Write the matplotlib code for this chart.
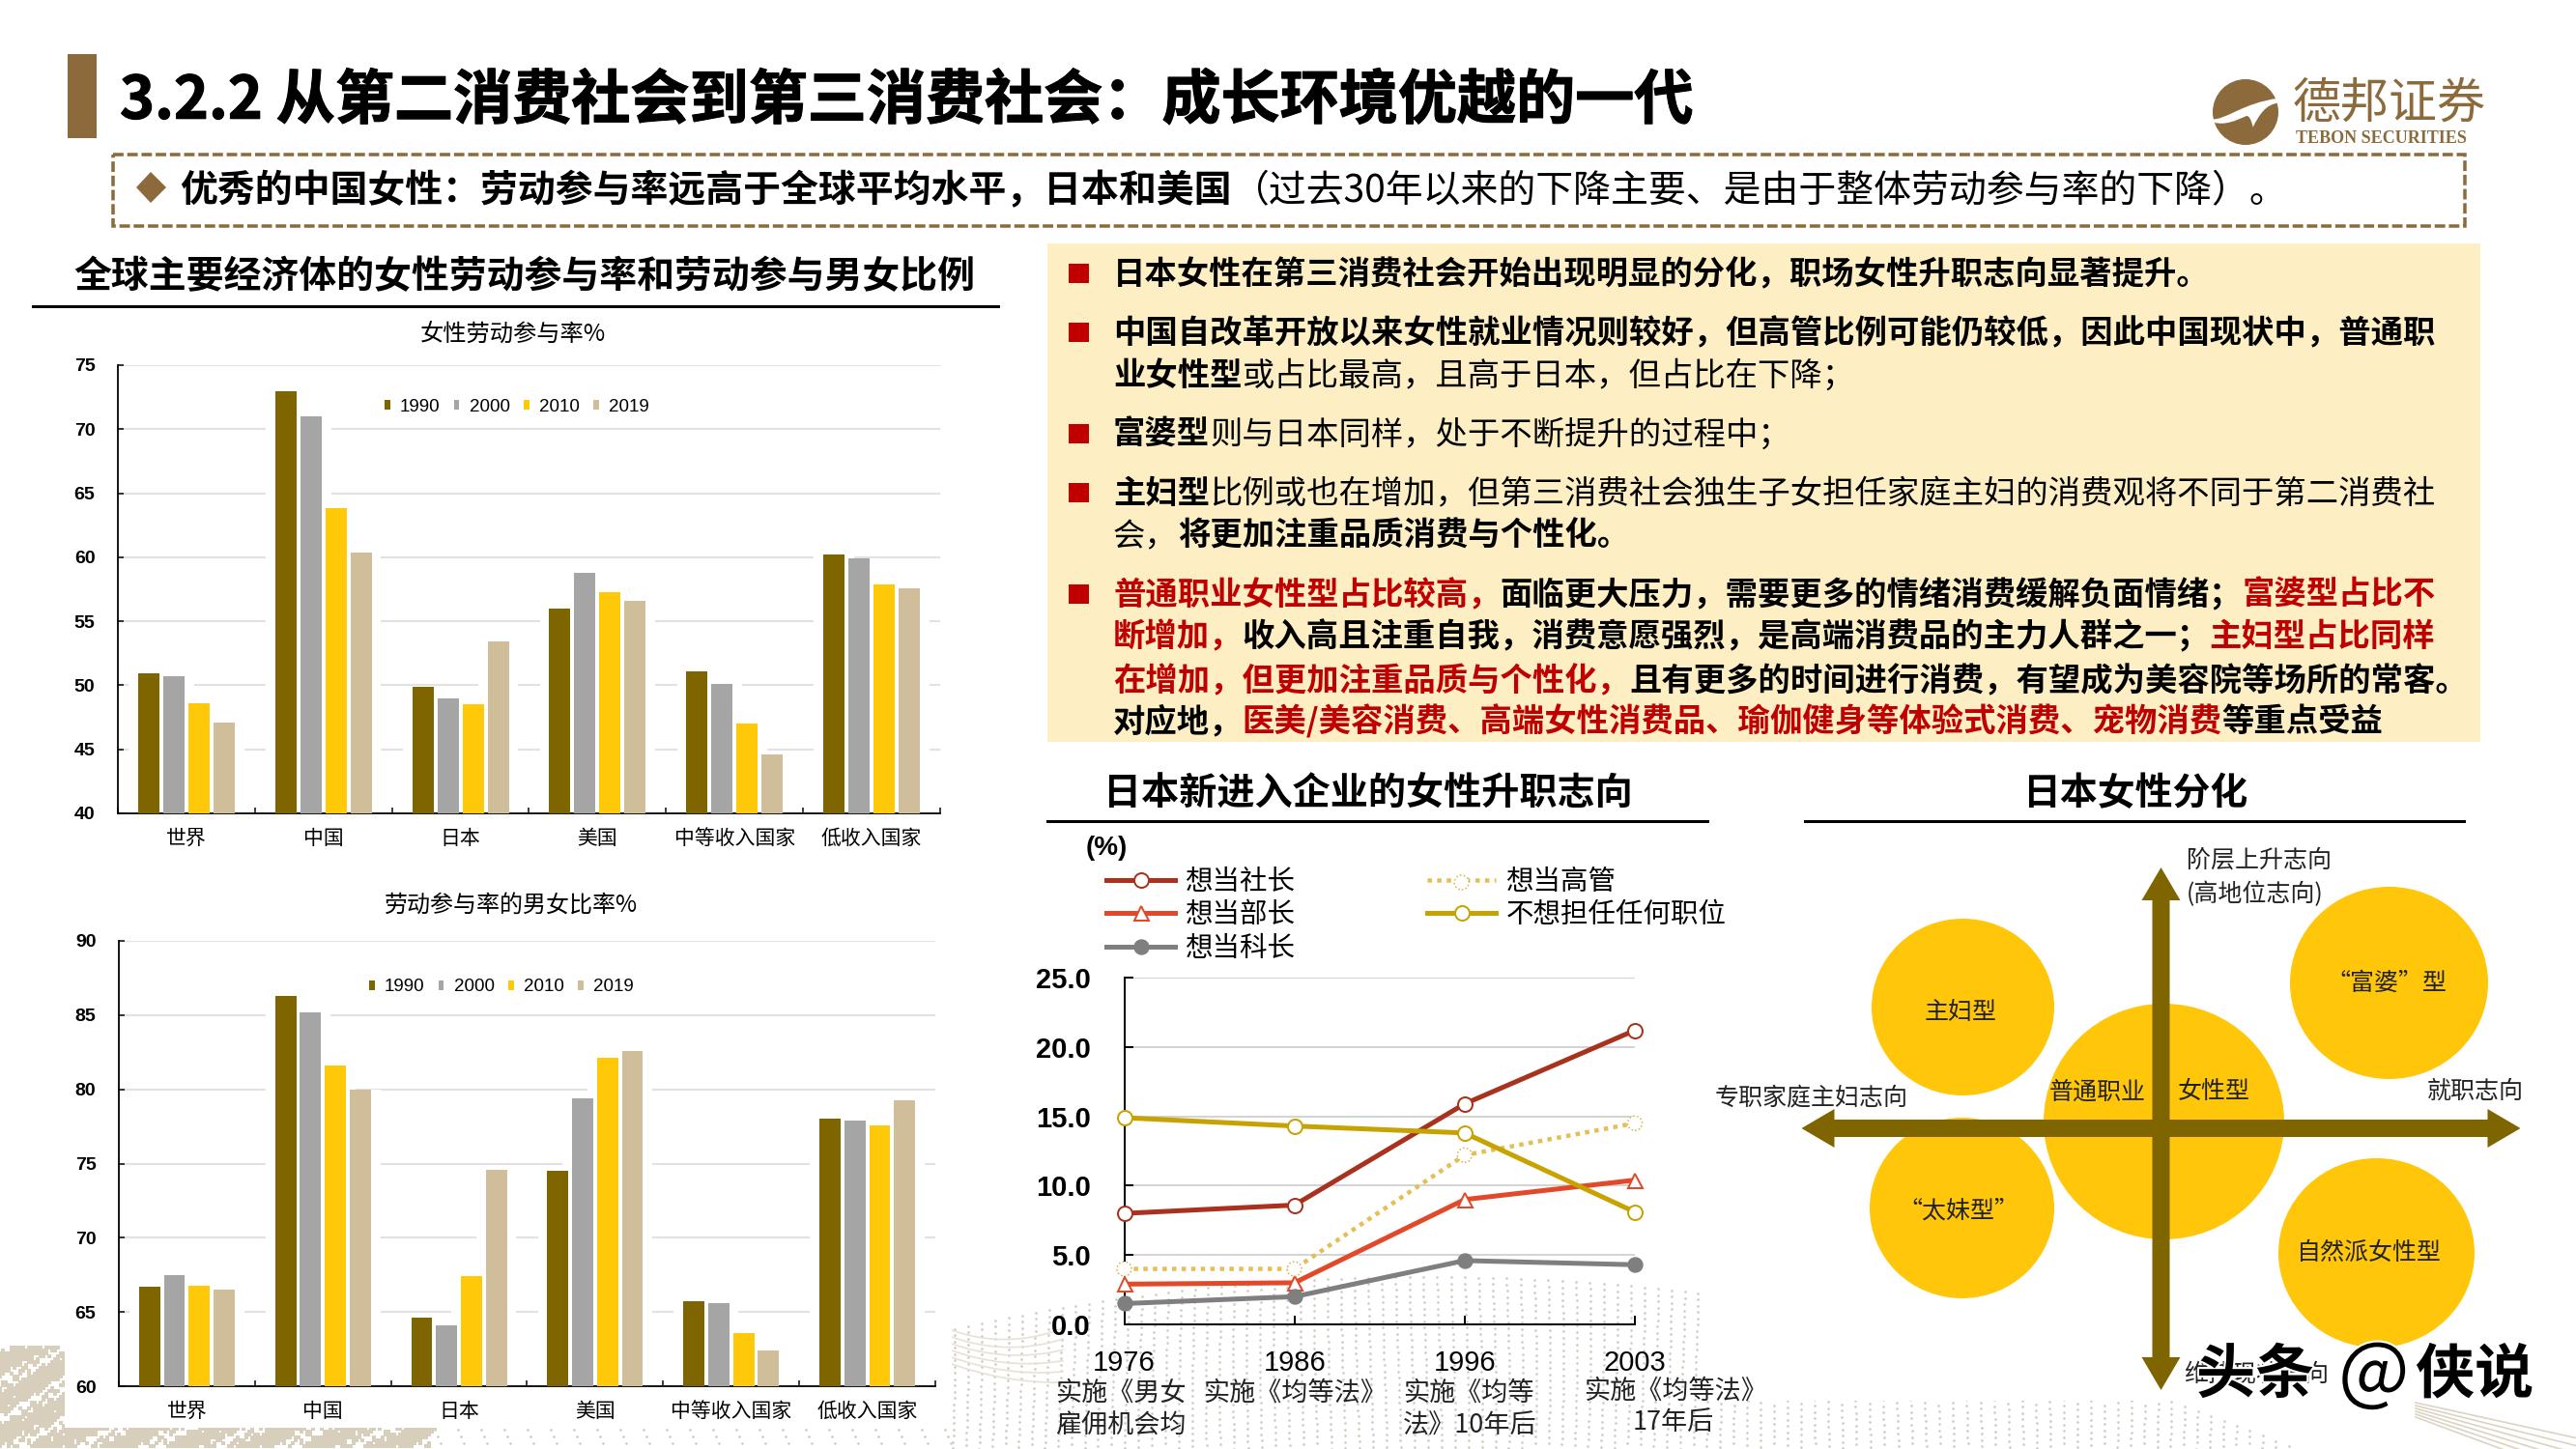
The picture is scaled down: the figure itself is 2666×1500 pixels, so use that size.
import numpy as np
import matplotlib
matplotlib.use('Agg')
import matplotlib.pyplot as plt
from matplotlib.patches import Rectangle, Ellipse, FancyArrow, PathPatch, Polygon, Circle
from matplotlib.path import Path
from matplotlib.legend_handler import HandlerTuple
import matplotlib.patheffects as pe

plt.rcParams['font.family'] = ['Noto Sans CJK SC', 'DejaVu Sans']

W, H = 2666, 1500
px = 0.72  # one pixel in points at dpi 100

# bar charts
regions = ['世界', '中国', '日本', '美国', '中等收入国家', '低收入国家']
years = ['1990', '2000', '2010', '2019']
year_colors = ['#7F6500', '#A5A5A5', '#FFC90A', '#D0BE9A']
female_rate = [[50.9, 73.0, 49.9, 56.0, 51.1, 60.2],
               [50.7, 71.0, 49.0, 58.8, 50.1, 59.9],
               [48.6, 63.8, 48.5, 57.3, 47.0, 57.9],
               [47.1, 60.4, 53.4, 56.6, 44.6, 57.6]]
ratio_rate = [[66.7, 86.3, 64.6, 74.5, 65.7, 78.0],
              [67.5, 85.2, 64.1, 79.4, 65.6, 77.9],
              [66.8, 81.6, 67.4, 82.1, 63.6, 77.6],
              [66.5, 79.95, 74.6, 82.6, 62.4, 79.25]]

# line chart
line_years = ['1976', '1986', '1996', '2003']
line_notes = ['想当社长', '想当部长', '想当科长', '想当高管', '不想担任任何职位']
president = [8.0, 8.6, 15.9, 21.2]
manager = [2.9, 3.0, 9.0, 10.4]
section_head = [1.5, 2.0, 4.6, 4.3]
executive = [4.0, 4.0, 12.2, 14.5]
no_position = [14.9, 14.3, 13.8, 8.1]

fig = plt.figure(figsize=(W / 100, H / 100), dpi=100)
bg = fig.add_axes([0, 0, 1, 1], zorder=0)
bg.set_xlim(0, W)
bg.set_ylim(H, 0)
bg.axis('off')
renderer = fig.canvas.get_renderer()


def box(x0, y0, x1, y1):
    return [x0 / W, 1 - y1 / H, (x1 - x0) / W, (y1 - y0) / H]


def runs(x, y, parts, size):
    # text of mixed colour and weight on one line, y is the line centre
    base = y + size / px * 0.36
    for s, color, weight in parts:
        t = bg.text(x, base, s, color=color, fontweight=weight, fontsize=size,
                    va='baseline', ha='left', zorder=6)
        x = t.get_window_extent(renderer).x1


# background dots
xs, ys = [], []
for x in np.arange(985, 2666, 14):
    top = 1322 + 0.00022 * (x - 1479) ** 2
    yy = np.arange(top, 1500, 6.5)
    xs.extend(x + 3 * np.sin(yy * 0.012 + x * 0.01))
    ys.extend(yy)
bg.scatter(xs, ys, s=3.6, color='#CFCBC2', lw=0, zorder=1)

# beige streaks near the start of the dots and in the lower right corner
for k in range(6):
    tx = np.linspace(985, 1100, 30)
    bg.plot(tx, 1412 - k * 7 - 0.0016 * (tx - 985) ** 2 * (1 + 0.2 * k) + 0.35 * (tx - 985), color='#E8E2D6', lw=1.2, zorder=1)
    tx = np.linspace(2500, 2666, 30)
    bg.plot(tx, 1452 + k * 3 + 0.22 * (tx - 2500) + k * 0.03 * (tx - 2500), color='#DCD3C2', lw=1.2, zorder=1)

gx, gy = np.meshgrid(np.arange(0, 470, 3.0), np.arange(1395, 1500, 3.0))
keep = np.sin(gx * 0.31) * np.cos(gy * 0.43) + np.sin(gx * 0.09 + gy * 0.17) + 0.6 * np.sin(gx * 0.71 + gy * 0.53) > -0.55
keep &= gx < 450 - (gy - 1480) * 0.3
bg.scatter(gx[keep], gy[keep], s=6, marker='s', color='#D8CEBC', lw=0, zorder=1)
gx, gy = np.meshgrid(np.arange(450, 985, 24.0), np.arange(1480, 1500, 7.0))
bg.scatter(gx + (gy - 1480) * 0.4, gy, s=3.6, color='#CFCBC2', lw=0, zorder=1)

bg.add_patch(Rectangle((67, 950), 918, 528, color='white', lw=0, zorder=2))
bg.add_patch(Rectangle((1763, 0), 877, 1450, color='white', lw=0, zorder=2))

# header
bg.add_patch(Rectangle((70, 56), 30, 87, color='#8C6A3B', lw=0, zorder=3))
bg.text(124, 105, '3.2.2 从第二消费社会到第三消费社会：成长环境优越的一代', fontsize=44, fontweight='bold',
        va='center', ha='left', color='black', zorder=6,
        path_effects=[pe.withStroke(linewidth=0.8, foreground='black')])
bg.add_patch(Rectangle((117, 160), 2434, 74, fill=False, ec='#8C6A3B', lw=3.5 * px,
                       linestyle=(0, (3.1, 1.1)), zorder=3))
bg.add_patch(Polygon([(141, 194), (156, 178), (172, 194), (156, 210)], color='#8C6A3B', lw=0, zorder=3))
runs(186, 195, [('优秀的中国女性：劳动参与率远高于全球平均水平，日本和美国', 'black', 'bold'),
                ('（过去30年以来的下降主要、是由于整体劳动参与率的下降）。', 'black', 'normal')], 28)

# logo
bg.add_patch(Circle((2324, 116), 34, color='#8C6A3B', lw=0, zorder=3))
lx = lambda v: 2270 + v / 3
ly = lambda v: 70 + v / 3
verts = [(55, 160), (100, 165), (150, 110), (265, 95), (262, 110), (225, 115), (205, 145), (185, 185),
         (180, 165), (175, 150), (165, 150), (130, 165), (100, 180), (62, 170), (55, 160)]
codes = [Path.MOVETO, Path.CURVE4, Path.CURVE4, Path.CURVE4, Path.LINETO, Path.CURVE4, Path.CURVE4, Path.CURVE4,
         Path.CURVE4, Path.CURVE4, Path.CURVE4, Path.CURVE4, Path.CURVE4, Path.CURVE4, Path.CLOSEPOLY]
bg.add_patch(PathPatch(Path([(lx(a), ly(b)) for a, b in verts], codes), color='white', lw=0, zorder=4))
bg.text(2373, 108, '德邦证券', fontsize=36, color='#8C6A3B', va='center', ha='left', zorder=6)
bg.text(2376, 144, 'TEBON SECURITIES', fontsize=13, color='#8C6A3B', family=['Liberation Serif'],
        fontweight='bold', va='center', ha='left', zorder=6)

# left heading
bg.text(76, 287, '全球主要经济体的女性劳动参与率和劳动参与男女比例', fontsize=28, fontweight='bold',
        va='center', ha='left', zorder=6)
bg.plot([34, 1033], [317, 317], color='black', lw=3 * px, zorder=3)


def bar_chart(rect, values, ylim, yticks, legend_at):
    ax = fig.add_axes(box(*rect), zorder=1)
    ax.set_facecolor('none')
    step = 0.183
    pos = np.arange(len(regions))
    for i, year in enumerate(years):
        # white band behind each bar breaks the grid lines around the group
        ax.bar(pos + (i - 1.5) * step, values[i], width=step + 0.11, color='white', zorder=2)
    for i, year in enumerate(years):
        ax.bar(pos + (i - 1.5) * step, values[i], width=0.155, color=year_colors[i], label=year, zorder=3)
    ax.set_xlim(-0.5, 5.5)
    ax.set_ylim(*ylim)
    ax.set_yticks(yticks)
    ax.set_xticks(np.arange(7) - 0.5)
    ax.set_xticklabels([])
    ax.set_xticks(pos, regions, minor=True)
    ax.tick_params(axis='x', which='minor', length=0, labelsize=15, pad=11)
    ax.tick_params(axis='x', which='major', direction='in', length=6 * px, width=1.5 * px)
    ax.tick_params(axis='y', direction='in', length=6 * px, width=1.5 * px, pad=17)
    for lab in ax.get_yticklabels():
        lab.set_fontfamily(['Liberation Sans'])
        lab.set_fontsize(14)
        lab.set_fontweight('bold')
    ax.grid(axis='y', color='#E2E2E2', lw=2.2 * px, zorder=0)
    ax.set_axisbelow(True)
    for side in ['top', 'right']:
        ax.spines[side].set_visible(False)
    for side in ['left', 'bottom']:
        ax.spines[side].set_linewidth(1.8 * px)
    ax.legend(ncol=4, frameon=False, loc='center', bbox_to_anchor=legend_at, bbox_transform=fig.transFigure,
              handlelength=0.28, handleheight=0.45, handletextpad=0.55, columnspacing=0.78, borderpad=0,
              prop={'family': ['Liberation Sans'], 'size': 13.5})
    return ax


bar_chart((122, 378, 973, 842), female_rate, (40, 75), range(40, 76, 5), (535 / W, 1 - 421 / H))
bg.text(531, 346, '女性劳动参与率%', fontsize=17.5, ha='center', va='center', zorder=6)
bar_chart((123, 974, 968, 1435), ratio_rate, (60, 90), range(60, 91, 5), (519 / W, 1 - 1022 / H))
bg.text(529, 937, '劳动参与率的男女比率%', fontsize=17.3, ha='center', va='center', zorder=6)

# text panel
bg.add_patch(Rectangle((1084, 252), 1483, 516, color='#FDEFC3', lw=0, zorder=3))
RED = '#C00000'
K = 'black'
text_lines = [
    (282, True, [('日本女性在第三消费社会开始出现明显的分化，职场女性升职志向显著提升。', K, 'bold')]),
    (343, True, [('中国自改革开放以来女性就业情况则较好，但高管比例可能仍较低，因此中国现状中，普通职', K, 'bold')]),
    (387, False, [('业女性型', K, 'bold'), ('或占比最高，且高于日本，但占比在下降；', K, 'normal')]),
    (448, True, [('富婆型', K, 'bold'), ('则与日本同样，处于不断提升的过程中；', K, 'normal')]),
    (509, True, [('主妇型', K, 'bold'), ('比例或也在增加，但第三消费社会独生子女担任家庭主妇的消费观将不同于第二消费社', K, 'normal')]),
    (553, False, [('会，', K, 'normal'), ('将更加注重品质消费与个性化。', K, 'bold')]),
    (614, True, [('普通职业女性型占比较高，', RED, 'bold'), ('面临更大压力，需要更多的情绪消费缓解负面情绪；', K, 'bold'),
                 ('富婆型占比不', RED, 'bold')]),
    (657, False, [('断增加，', RED, 'bold'), ('收入高且注重自我，消费意愿强烈，是高端消费品的主力人群之一；', K, 'bold'),
                  ('主妇型占比同样', RED, 'bold')]),
    (703, False, [('在增加，但更加注重品质与个性化，', RED, 'bold'), ('且有更多的时间进行消费，有望成为美容院等场所的常客。', K, 'bold')]),
    (745, False, [('对应地，', K, 'bold'), ('医美/美容消费、高端女性消费品、瑜伽健身等体验式消费、宠物消费', RED, 'bold'),
                  ('等重点受益', K, 'bold')]),
]
for y, bullet, parts in text_lines:
    if bullet:
        bg.add_patch(Rectangle((1106, y - 9), 21, 20, color=RED, lw=0, zorder=4))
    runs(1152, y, parts, 24)

# line chart
bg.text(1416, 822, '日本新进入企业的女性升职志向', fontsize=28.2, fontweight='bold', ha='center', va='center', zorder=6)
bg.plot([1084, 1767], [850, 850], color='black', lw=3 * px, zorder=3)
bg.text(1145, 878, '(%)', fontsize=20, fontweight='bold', family=['Liberation Sans'], ha='center', va='center', zorder=6)

lc = fig.add_axes(box(1163.5, 1012, 1692, 1371), zorder=1)
lc.set_facecolor('none')
pos = np.arange(4)
lw_line = 5 * px
ms = 15 * px
l1, = lc.plot(pos, president, color='#A8321E', lw=lw_line, marker='o', ms=ms, mfc='white', mew=2 * px, mec='#A8321E', clip_on=False, zorder=4)
l2, = lc.plot(pos, manager, color='#E2492A', lw=lw_line, marker='^', ms=ms, mfc='white', mew=2 * px, mec='#E2492A', clip_on=False, zorder=4)
l3, = lc.plot(pos, section_head, color='#7F7F7F', lw=lw_line, marker='o', ms=ms, mfc='#7F7F7F', mec='#7F7F7F', clip_on=False, zorder=4)
l4, = lc.plot(pos, executive, color='#E6BE55', lw=lw_line * 0.9, linestyle=(0, (1, 1.2)), clip_on=False, zorder=4)
s4 = lc.scatter(pos, executive, s=(15 * px) ** 2, facecolor='white', edgecolor='#D9AE3C', linewidths=1.5 * px, linestyle=':', clip_on=False, zorder=5)
l5, = lc.plot(pos, no_position, color='#C6A300', lw=lw_line, marker='o', ms=ms, mfc='white', mew=2 * px, mec='#C6A300', clip_on=False, zorder=6)
lc.set_xlim(0, 3)
lc.set_ylim(0, 25)
lc.set_yticks(np.arange(0, 26, 5))
lc.set_yticklabels(['%.1f' % v for v in np.arange(0, 26, 5)], family=['Liberation Sans'], fontsize=21, fontweight='bold')
lc.set_xticks(pos)
lc.set_xticklabels(line_years, family=['Liberation Sans'], fontsize=21)
lc.tick_params(axis='both', direction='in', length=9 * px, width=2 * px)
lc.tick_params(axis='x', pad=19)
lc.tick_params(axis='y', pad=25)
lc.grid(axis='y', color='#D4D4D4', lw=2 * px)
lc.set_axisbelow(True)
for side in ['top', 'right']:
    lc.spines[side].set_visible(False)
for side in ['left', 'bottom']:
    lc.spines[side].set_linewidth(2 * px)
lc.legend([l1, l2, l3, (l4, s4), l5], line_notes, ncol=2, frameon=False, loc='upper left',
          bbox_to_anchor=(1145 / W, 1 - 898 / H), bbox_transform=fig.transFigure,
          handler_map={tuple: HandlerTuple(ndivide=1, pad=0)}, scatterpoints=1,
          handlelength=2.5, handletextpad=0.36, columnspacing=4.8, labelspacing=0.15, borderpad=0, borderaxespad=0,
          fontsize=20.5)

for x, y, s, ha in [(1092, 1442, '实施《男女', 'left'), (1092, 1476, '雇佣机会均', 'left'),
                    (1245, 1442, '实施《均等法》', 'left'), (1452, 1442, '实施《均等', 'left'),
                    (1452, 1476, '法》10年后', 'left'), (1734, 1440, '实施《均等法》', 'center'),
                    (1732, 1472, '17年后', 'center')]:
    bg.text(x, y, s, fontsize=19.5, ha=ha, va='center', color='#222222', zorder=6)

# diagram
bg.text(2210, 822, '日本女性分化', fontsize=28, fontweight='bold', ha='center', va='center', zorder=6)
bg.plot([1868, 2550], [850, 850], color='black', lw=3 * px, zorder=3)
YEL = '#FFC60A'
for cx, cy, w, h in [(2031.5, 1042.5, 189, 183), (2472.5, 1017.5, 205, 199), (2239.5, 1161, 249, 244),
                     (2030.5, 1250.5, 191, 187), (2459.5, 1297, 203, 196)]:
    bg.add_patch(Ellipse((cx, cy), w, h, color=YEL, lw=0, zorder=3))
ARROW = '#7F6500'
for dx, dy in [(0, -270), (0, 271), (-372, 0), (372, 0)]:
    bg.add_patch(FancyArrow(2236.5, 1168, dx, dy, width=18, head_width=40, head_length=34,
                            length_includes_head=True, color=ARROW, lw=0, zorder=4))
for x, y, s, ha in [(2263, 891, '阶层上升志向', 'left'), (2263, 926, '(高地位志向)', 'left'),
                    (1775, 1137, '专职家庭主妇志向', 'left'), (2512, 1130, '就职志向', 'left'),
                    (2029, 1048, '主妇型', 'center'), (2470, 1018, '“富婆”型', 'center'),
                    (2171, 1131, '普通职业', 'center'), (2291, 1130, '女性型', 'center'),
                    (2027, 1254, '“太妹型”', 'center'), (2452, 1297, '自然派女性型', 'center'),
                    (2260, 1423, '维持现状志向', 'left')]:
    bg.text(x, y, s, fontsize=18, ha=ha, va='center', color='#222222', zorder=6)

# watermark
for x, s, size, weight in [(2273, '头条', 44, 'bold'), (2420, '@', 56, 'normal'), (2500, '侠说', 44, 'bold')]:
    bg.text(x, 1424, s, fontsize=size, fontweight=weight, ha='left', va='center', color='black', zorder=8,
            path_effects=[pe.withStroke(linewidth=3, foreground='white')])

fig.savefig('out.png', dpi=100, facecolor='white')
